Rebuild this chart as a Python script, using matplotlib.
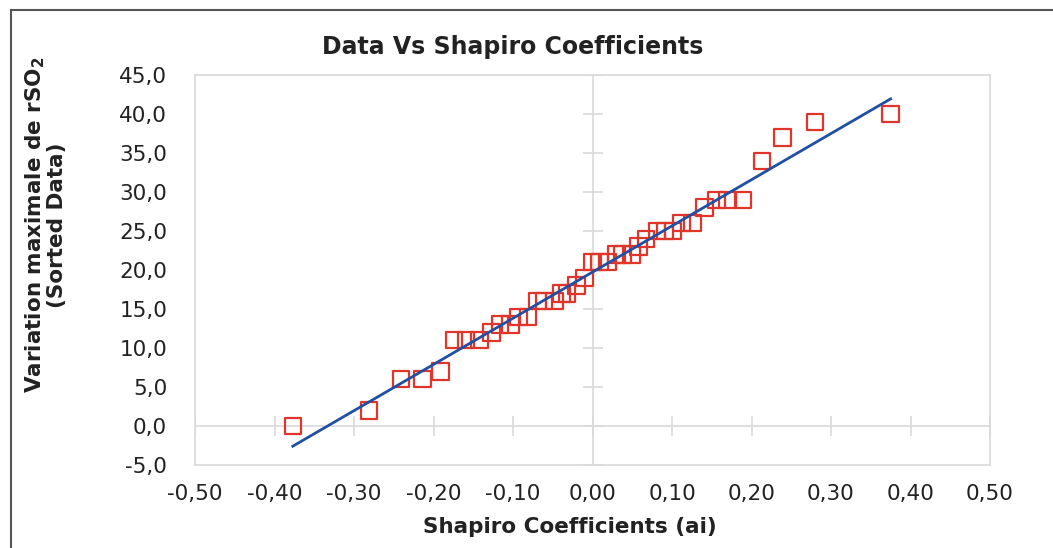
import matplotlib.pyplot as plt
import numpy as np
from matplotlib.lines import Line2D

# Shapiro-Wilk coefficients (ai) and sorted rSO2 variations
coef = [-0.377, -0.281, -0.241, -0.214, -0.191, -0.174, -0.159, -0.142, -0.127,
        -0.116, -0.103, -0.093, -0.081, -0.069, -0.061, -0.048, -0.039, -0.032,
        -0.020, -0.010, 0.000, 0.009, 0.019, 0.030, 0.038, 0.049, 0.058, 0.067,
        0.081, 0.091, 0.101, 0.112, 0.126, 0.141, 0.156, 0.170, 0.189, 0.213,
        0.239, 0.280, 0.375]
sorted_data = [0, 2, 6, 6, 7, 11, 11, 11, 12, 13, 13, 14, 14, 16, 16, 16, 17, 17,
               18, 19, 21, 21, 21, 22, 22, 22, 23, 24, 25, 25, 25, 26, 26, 28, 29,
               29, 29, 34, 37, 39, 40]

x_ticks = np.round(np.arange(-0.5, 0.51, 0.1), 2)
y_ticks = np.arange(-5, 46, 5)

fig = plt.figure(figsize=(10.53, 5.48), dpi=100)
ax = fig.add_axes([195 / 1053, 1 - 465 / 548, 795 / 1053, 390 / 548])

grey = '#d9d9d9'

# axes crossing at the origin, with cross tick marks
ax.axhline(0, color=grey, lw=1.2, zorder=1)
ax.axvline(0, color=grey, lw=1.2, zorder=1)
ax.plot(x_ticks, np.zeros(len(x_ticks)), ls='none', marker='|', ms=14,
        mew=1.2, color=grey, zorder=1)
ax.plot(np.zeros(len(y_ticks)), y_ticks, ls='none', marker='_', ms=14,
        mew=1.2, color=grey, zorder=1)

ax.scatter(coef, sorted_data, marker='s', s=140, facecolors='none',
           edgecolors='#e0352b', linewidths=1.6, zorder=3)

# linear trend line
slope, intercept = np.polyfit(coef, sorted_data, 1)
xs = np.array([min(coef), max(coef)])
ax.plot(xs, slope * xs + intercept, color='#2150a3', lw=2, zorder=4)


def fmt(v, nd):
    s = f'{v:.{nd}f}'
    if float(s) == 0:
        s = s.lstrip('-')
    return s.replace('.', ',')


ax.set_xlim(-0.5, 0.5)
ax.set_ylim(-5, 45)
ax.set_xticks(x_ticks)
ax.set_yticks(y_ticks)
ax.set_xticklabels([fmt(v, 2) for v in x_ticks])
ax.set_yticklabels([fmt(v, 1) for v in y_ticks])
ax.tick_params(length=0, labelsize=15.5, colors='#222222')
ax.tick_params(axis='y', pad=20)
ax.tick_params(axis='x', pad=14)
for sp in ax.spines.values():
    sp.set_color(grey)
    sp.set_linewidth(1.2)

fig.text(0.487, 1 - 47 / 548, 'Data Vs Shapiro Coefficients', ha='center',
         va='center', fontsize=17, fontweight='bold', color='#222222')
fig.text(0.541, 1 - 527 / 548, 'Shapiro Coefficients (ai)', ha='center',
         va='center', fontsize=15.5, fontweight='bold', color='#222222')
fig.text(45 / 1053, 1 - 225 / 548,
         'Variation maximale de rSO$_\\mathbf{2}$\n(Sorted Data)',
         ha='center', va='center', rotation=90, fontsize=15.5,
         fontweight='bold', color='#222222', linespacing=1.0)

# outer frame
fig.add_artist(Line2D([11 / 1053, 11 / 1053], [0, 1 - 9.5 / 548],
                      color='#555555', lw=1.5))
fig.add_artist(Line2D([11 / 1053, 1], [1 - 9.5 / 548, 1 - 9.5 / 548],
                      color='#555555', lw=1.5))

fig.savefig('out.png', dpi=100)
